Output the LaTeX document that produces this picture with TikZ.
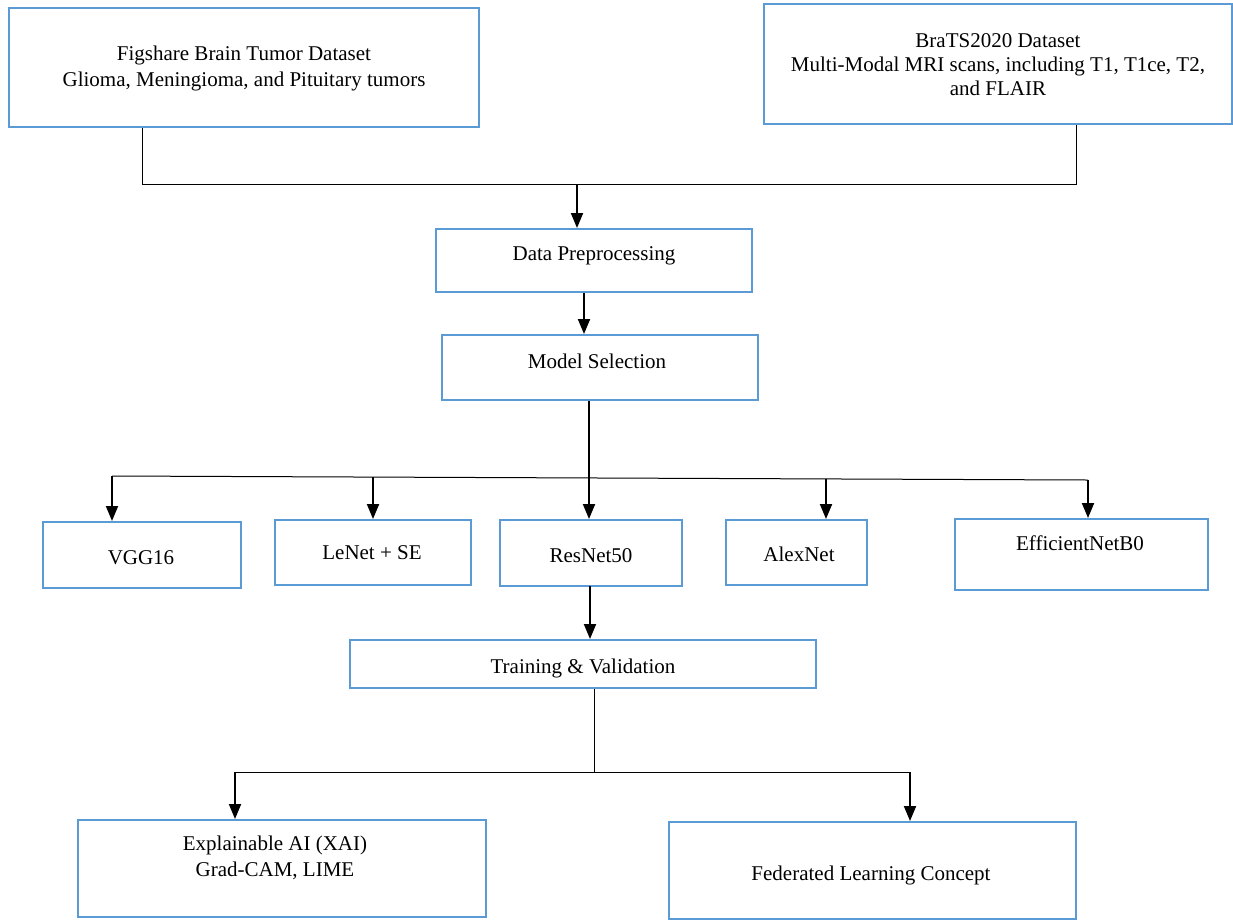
\documentclass[tikz,border=0pt]{standalone}
\usepackage{fontspec}
\setmainfont{Liberation Serif}
\usetikzlibrary{arrows.meta}
\definecolor{boxblue}{RGB}{91,155,213}
\begin{document}
\begin{tikzpicture}[x=1pt,y=-1pt,
  box/.style={draw=boxblue,line width=2pt,inner sep=0pt},
  txt/.style={align=center,inner sep=0pt,anchor=base,font=\fontsize{21}{26}\selectfont},
  conn/.style={line width=1pt},
  arr/.style={line width=1.9pt,-{Triangle[length=15pt,width=12pt]}}]
\useasboundingbox (0,0) rectangle (1233,919);
% boxes
\node[box,minimum width=470pt,minimum height=119pt] (fig) at (244,67) {};
\node[txt] (figT) at (244,86.7) {Figshare Brain Tumor Dataset\\Glioma, Meningioma, and Pituitary tumors};
\node[box,minimum width=468pt,minimum height=120pt] (bra) at (998,64) {};
\node[txt,font=\fontsize{21}{24}\selectfont] (braT) at (998,95) {BraTS2020 Dataset\\Multi-Modal MRI scans, including T1, T1ce, T2,\\and FLAIR};
\node[box,minimum width=316pt,minimum height=63pt] (dp) at (594,260.5) {};
\node[txt] (dpT) at (594,260) {Data Preprocessing};
\node[box,minimum width=316pt,minimum height=65pt] (ms) at (600,367.5) {};
\node[txt] (msT) at (597,368) {Model Selection};
\node[box,minimum width=198pt,minimum height=66pt] (vgg) at (142,555) {};
\node[txt] (vggT) at (141,564) {VGG16};
\node[box,minimum width=196pt,minimum height=65pt] (le) at (373,552.5) {};
\node[txt] (leT) at (372,559) {LeNet + SE};
\node[box,minimum width=182pt,minimum height=66pt] (res) at (591,553) {};
\node[txt] (resT) at (591,562) {ResNet50};
\node[box,minimum width=141pt,minimum height=65pt] (alex) at (796.5,552.5) {};
\node[txt] (alexT) at (799,561) {AlexNet};
\node[box,minimum width=253pt,minimum height=71pt] (eff) at (1081.5,554.5) {};
\node[txt] (effT) at (1080,550) {EfficientNetB0};
\node[box,minimum width=466pt,minimum height=48pt] (tr) at (583,664) {};
\node[txt] (trT) at (583,673) {Training \& Validation};
\node[box,minimum width=408pt,minimum height=97pt] (xai) at (282,868.5) {};
\node[txt] (xaiT) at (275,876) {Explainable AI (XAI)\\Grad-CAM, LIME};
\node[box,minimum width=407pt,minimum height=97pt] (fed) at (872.5,870.5) {};
\node[txt] (fedT) at (871,880) {Federated Learning Concept};
% top merge
\coordinate (a1) at (142,184);
\coordinate (a2) at (1076,184);
\coordinate (j1) at (577,184);
\draw[conn] (fig.south -| a1) -- (a1) -- (a2) -- (bra.south -| a2);
\draw[arr] (j1) -- (j1 |- dp.north);
\draw[arr] ([xshift=-10pt]dp.south) -- ([xshift=-16pt]ms.north);
% model branches
\coordinate (b0) at (589,400);
\coordinate (bL) at (112,476);
\coordinate (b1) at (373,477);
\coordinate (b3) at (826,479);
\coordinate (bR) at (1088,480);
\draw[conn] (bL) -- (bR);
\draw[arr] (ms.south -| b0) -- (res.north -| b0);
\draw[arr] (bL) -- (vgg.north -| bL);
\draw[arr] (b1) -- (b1 |- le.north);
\draw[arr] (b3) -- (b3 |- alex.north);
\draw[arr] (bR) -- (bR |- eff.north);
\coordinate (c0) at (590,586);
\draw[arr] (c0) -- (c0 |- tr.north);
% bottom branch
\coordinate (d0) at (594,772);
\coordinate (dL) at (235,772);
\coordinate (dR) at (910,772);
\draw[conn] (tr.south -| d0) -- (d0);
\draw[conn] (dL) -- (dR);
\draw[arr] (dL) -- (dL |- xai.north);
\draw[arr] (dR) -- (dR |- fed.north);
\end{tikzpicture}
\end{document}
